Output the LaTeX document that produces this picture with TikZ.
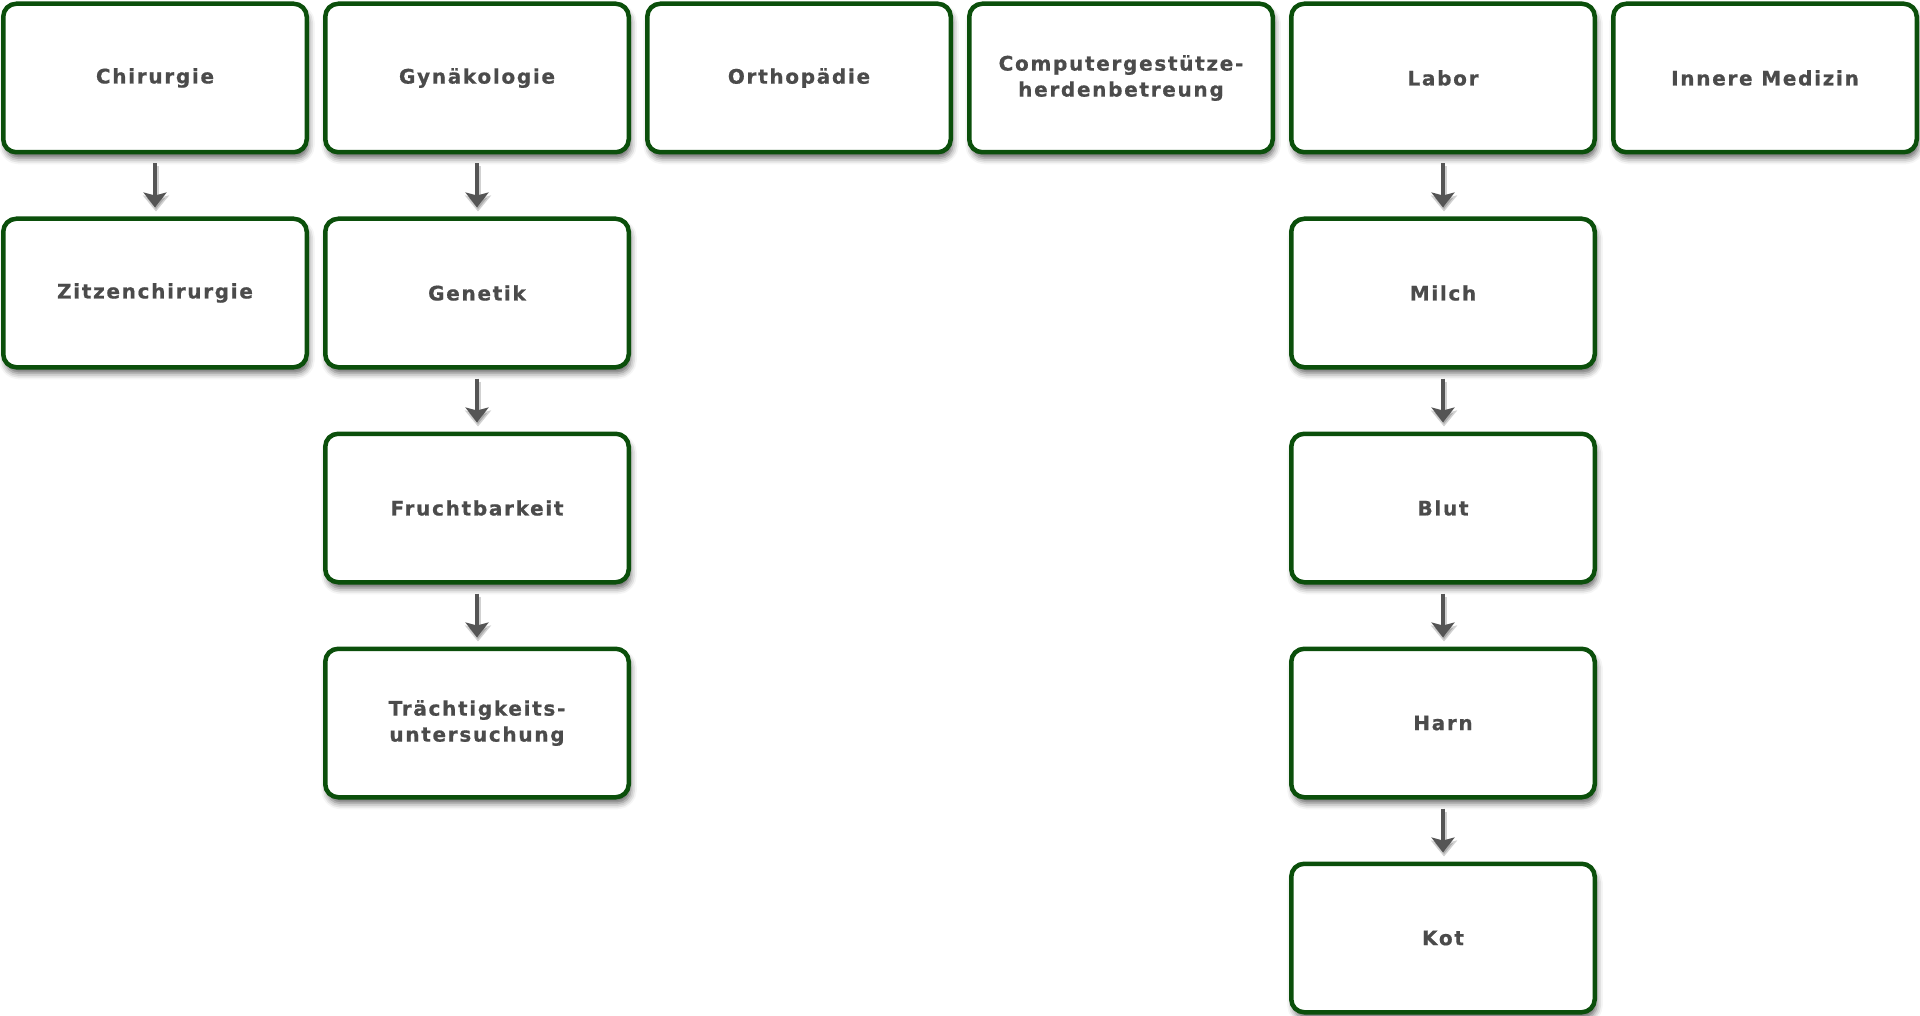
\documentclass[tikz,border=0pt]{standalone}
\usepackage{fontspec}
\setmainfont{DejaVu Sans}
\newfontfamily\boxfont[LetterSpace=8.5,FakeBold=0.7]{DejaVu Sans Bold}
\usetikzlibrary{arrows.meta,shadows.blur}
\definecolor{boxgreen}{HTML}{0B4F0B}
\definecolor{txtgrey}{HTML}{4B4B4B}
\definecolor{arrgrey}{HTML}{555555}
\tikzset{
  unitbox/.style={draw=boxgreen, line width=4.5pt, rounded corners=13pt, fill=white,
    minimum width=303.5pt, minimum height=148.5pt, inner sep=0pt, align=center,
    font=\boxfont\fontsize{20}{26}\selectfont, text=txtgrey,
    blur shadow={shadow xshift=2pt, shadow yshift=-6pt, shadow blur radius=6pt, shadow opacity=60}},
  linkshade/.style={draw=black, opacity=0.18, line width=6pt, shorten <=9pt, shorten >=8pt,
    -{Stealth[length=16pt, width=26pt, inset=3pt]}, transform canvas={xshift=1pt, yshift=-3pt}},
  link/.style={draw=arrgrey, line width=4pt, shorten <=9pt, shorten >=9pt,
    -{Stealth[length=15pt, width=23pt, inset=3pt]}}
}
\begin{document}
\begin{tikzpicture}[x=1pt,y=1pt]
\useasboundingbox (0,0) rectangle (1920,-1016);
% columns: center x = 155 + 322 i ; rows: center y = -(78 + 215 j)
\node[unitbox] (chir) at (155,-78) {Chirurgie};
\node[unitbox] (zitz) at (155,-293) {Zitzenchirurgie};
\node[unitbox] (gyn) at (477,-78) {Gynäkologie};
\node[unitbox] (gen) at (477,-293) {Genetik};
\node[unitbox] (frucht) at (477,-508) {Fruchtbarkeit};
\node[unitbox] (traecht) at (477,-723) {Trächtigkeits-\\untersuchung};
\node[unitbox] (ortho) at (799,-78) {Orthopädie};
\node[unitbox] (comp) at (1121,-78) {Computergestütze-\\herdenbetreung};
\node[unitbox] (labor) at (1443,-78) {Labor};
\node[unitbox] (milch) at (1443,-293) {Milch};
\node[unitbox] (blut) at (1443,-508) {Blut};
\node[unitbox] (harn) at (1443,-723) {Harn};
\node[unitbox] (kot) at (1443,-938) {Kot};
\node[unitbox] (innere) at (1765,-78) {Innere Medizin};
\foreach \a/\b in {chir/zitz, gyn/gen, gen/frucht, frucht/traecht, labor/milch, milch/blut, blut/harn, harn/kot}{
  \draw[linkshade] (\a) -- (\b);
  \draw[link] (\a) -- (\b);
}
\end{tikzpicture}
\end{document}
